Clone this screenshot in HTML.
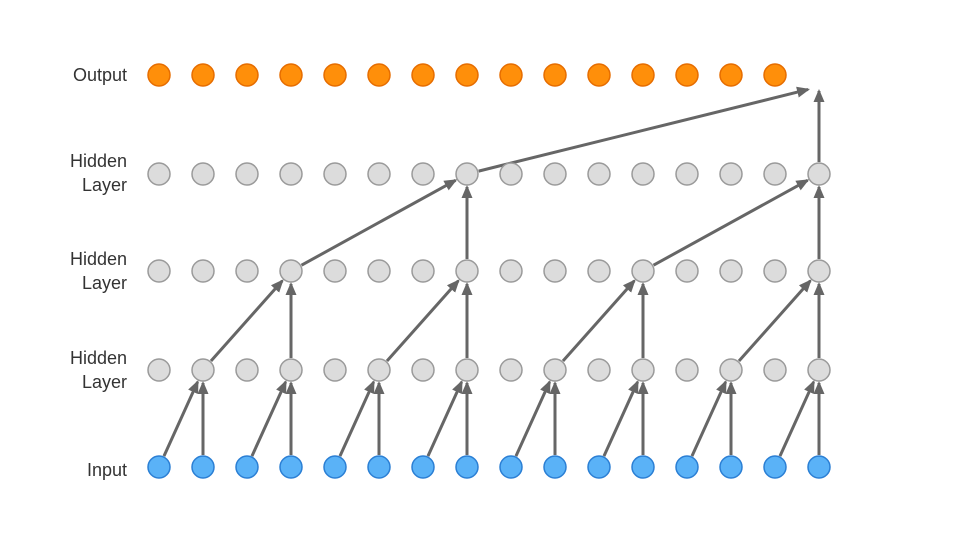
<!DOCTYPE html>
<html><head><meta charset="utf-8"><style>
body{margin:0;background:#fff;}
svg{display:block;font-family:"Liberation Sans",sans-serif;}
</style></head><body>
<svg id="c" width="958" height="546">
<defs><marker id="ah" markerWidth="14" markerHeight="12" refX="11" refY="5.5" orient="auto" markerUnits="userSpaceOnUse"><path d="M0,0 L13,5.5 L0,11 z" fill="#666"/></marker></defs>
<g font-size="18" fill="#333" text-anchor="end">
<text x="127" y="81">Output</text>
<text x="127" y="167"><tspan x="127">Hidden</tspan><tspan x="127" dy="24">Layer</tspan></text>
<text x="127" y="265"><tspan x="127">Hidden</tspan><tspan x="127" dy="24">Layer</tspan></text>
<text x="127" y="364"><tspan x="127">Hidden</tspan><tspan x="127" dy="24">Layer</tspan></text>
<text x="127" y="476">Input</text>
</g>
<g id="arrows"></g><g id="nodes"></g>
</svg>
<script>
const rowNames=["input","hidden1","hidden2","hidden3","output"];
const rowY=[467,370,271,174,75];
const rowCounts=[16,16,16,16,15];
const dilations=[1,2,4,8];
const x0=159, dx=44, r=11;
const colX=i=>x0+i*dx;
const ns="http://www.w3.org/2000/svg";
const nodes=document.getElementById('nodes'), arrows=document.getElementById('arrows');
const styles=[["#5ab2f7","#2b7fd4"],["#dcdcdc","#9a9a9a"],["#dcdcdc","#9a9a9a"],["#dcdcdc","#9a9a9a"],["#ff8f0a","#e66d00"]];
rowY.forEach((y,ri)=>{
  for(let i=0;i<rowCounts[ri];i++){
    const c=document.createElementNS(ns,'circle');
    c.setAttribute('cx',colX(i));c.setAttribute('cy',y);c.setAttribute('r',r);
    c.setAttribute('fill',styles[ri][0]);c.setAttribute('stroke',styles[ri][1]);c.setAttribute('stroke-width',1.5);
    
    
    nodes.appendChild(c);
  }
});
function arrow(x1,y1,x2,y2,name,endGap){
  const a=Math.atan2(y2-y1,x2-x1);
  const s=r+1, e=(endGap===undefined? r+2 : endGap);
  const l=document.createElementNS(ns,'line');
  l.setAttribute('x1',x1+Math.cos(a)*s);l.setAttribute('y1',y1+Math.sin(a)*s);
  l.setAttribute('x2',x2-Math.cos(a)*e);l.setAttribute('y2',y2-Math.sin(a)*e);
  l.setAttribute('stroke','#666');l.setAttribute('stroke-width',3);l.setAttribute('marker-end','url(#ah)');
  
  
  arrows.appendChild(l);
}
dilations.forEach((d,li)=>{
  const step=2*d;
  for(let t=step-1;t<16;t+=step){
    const last = li===dilations.length-1;
    const ty = last ? rowY[li+1]+14 : rowY[li+1];
    const tx = last ? colX(t) - (t!==t-d? 0:0) : colX(t);
    arrow(colX(t-d),rowY[li], last ? colX(t)-9 : colX(t), ty,'arrow-l'+li+'-diag-'+t, last?2:undefined);
    arrow(colX(t),rowY[li],colX(t),ty,'arrow-l'+li+'-vert-'+t, last?2:undefined);
  }
});
</script>
</body></html>
